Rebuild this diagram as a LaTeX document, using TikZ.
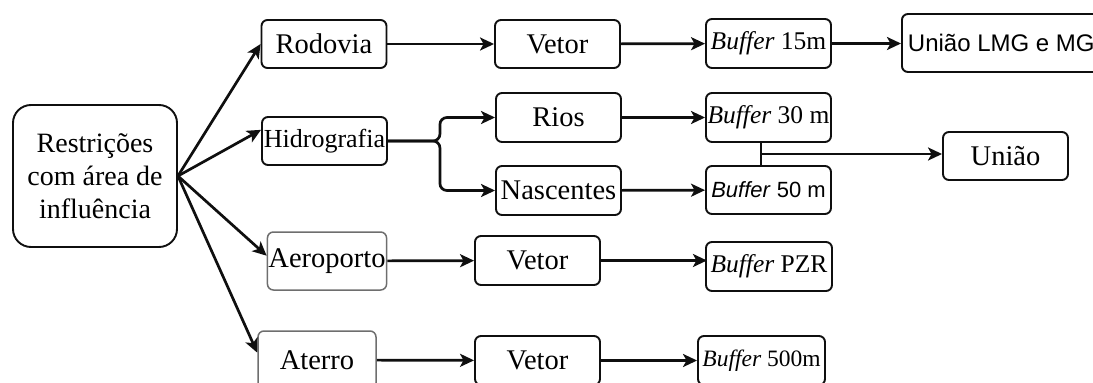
\documentclass[tikz,border=0pt]{standalone}
\usepackage{fontspec}
\setmainfont{Liberation Serif}
\setsansfont{Liberation Sans}
\usepackage{tikz}
\usetikzlibrary{calc,arrows.meta,positioning}
\definecolor{cEdge}{RGB}{15,15,15}
\definecolor{cSoft}{RGB}{110,110,110}

\begin{document}
\begin{tikzpicture}[x=1pt,y=-1pt,
    box/.style={draw=cEdge,line width=1.9pt,rounded corners=6pt,minimum width=125pt,minimum height=48pt,inner sep=1pt,font=\fontsize{28.5}{33}\selectfont},
    softbox/.style={box,draw=cSoft,line width=1.5pt,minimum width=118pt,minimum height=58pt},
    bufbox/.style={box,font=\fontsize{25.5}{30}\selectfont},
    arr/.style={line width=2.7pt,cEdge,-{Stealth[length=14pt,width=13pt,inset=3.5pt]}},
    link/.style={line width=2.7pt,cEdge}]
  \useasboundingbox (0,0) rectangle (1093,383);
  \node[box,minimum width=164pt,minimum height=142pt,rounded corners=18pt,align=center,font=\fontsize{28}{33}\selectfont] (restr) at (95,176) {Restrições\\com área de\\influência};
  \node[box] (rod) at (324,44) {Rodovia};
  \node[box] (vet1) at (557.5,44) {Vetor};
  \node[bufbox,minimum height=49pt] (buf15) at (768.5,43.5) {\textit{Buffer} 15m};
  \node[box,anchor=west,minimum height=58pt,inner xsep=6pt,font=\sffamily\fontsize{24}{28}\selectfont] (unilmg) at (901,43) {União LMG e MG};
  \node[box,font=\fontsize{26}{30}\selectfont] (hid) at (324.5,141) {Hidrografia};
  \node[box,minimum height=49pt] (rios) at (558.5,117.5) {Rios};
  \node[box,minimum height=49pt] (nasc) at (558.5,190.5) {Nascentes};
  \node[bufbox,minimum height=49pt] (buf30) at (768.5,117.5) {\textit{Buffer} 30 m};
  \node[bufbox,font=\sffamily\fontsize{22}{26}\selectfont] (buf50) at (768.5,190) {\textit{Buffer} 50 m};
  \node[box] (uniao) at (1005.5,156) {União};
  \node[softbox] (aero) at (327,261) {Aeroporto};
  \node[box,minimum height=49pt] (vet2) at (537.5,260.5) {Vetor};
  \node[bufbox,minimum width=126pt,minimum height=49pt] (bufpzr) at (769,266.5) {\textit{Buffer} PZR};
  \node[softbox] (ater) at (317,360) {Aterro};
  \node[box,minimum height=49pt] (vet3) at (537.5,360.5) {Vetor};
  \node[bufbox,minimum width=127pt,minimum height=49pt,font=\fontsize{23.5}{28}\selectfont] (buf500) at (761.5,360.5) {\textit{Buffer} 500m};

  \draw[arr] (restr.east) -- (rod.west);
  \draw[arr] (restr.east) -- (hid.170);
  \draw[arr] (restr.east) -- (aero.175);
  \draw[arr] (restr.east) -- (ater.173);

  \draw[arr] (rod) -- (vet1);
  \draw[arr] (vet1) -- (buf15);
  \draw[arr] (buf15.east) -- (buf15.east -| unilmg.west);

  \draw[arr,rounded corners=7pt] (hid.east) -- ++(52,0) |- (rios.west);
  \draw[arr,rounded corners=7pt] (hid.east) -- ++(52,0) |- (nasc.west);
  \draw[arr] (rios) -- (buf30);
  \draw[arr] (nasc) -- (buf50);
  \coordinate (jtop) at ($(buf30.south)+(-7.5,0)$);
  \coordinate (jbot) at ($(buf50.north)+(-7.5,0)$);
  \coordinate (jmid) at ($(jtop)!0.5!(jbot)$);
  \draw[link] (jtop) -- (jbot);
  \draw[arr] (jmid) -- (jmid -| uniao.west);

  \draw[arr] (aero) -- (vet2);
  \draw[arr] (vet2.east) -- ++(106,0);
  \draw[arr] (ater) -- (vet3);
  \draw[arr] (vet3) -- (buf500);
\end{tikzpicture}
\end{document}
